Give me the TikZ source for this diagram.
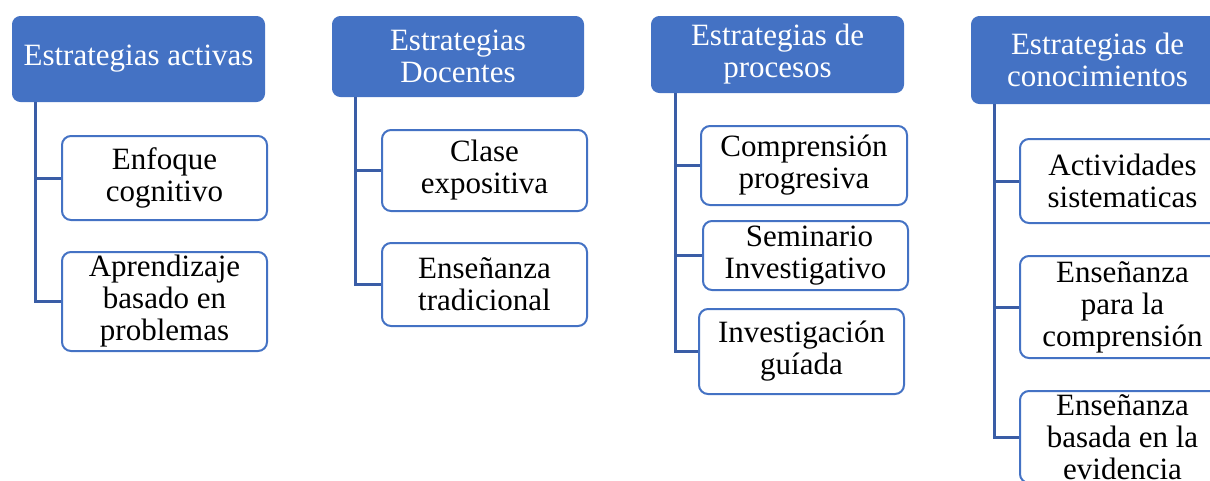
\documentclass[tikz,border=0pt]{standalone}
\usepackage{fontspec}
\setmainfont{Liberation Serif}
\definecolor{boxblue}{HTML}{4472C4}
\definecolor{linkblue}{HTML}{3A5DA6}
\begin{document}
\begin{tikzpicture}[x=1pt,y=-1pt,
  hdr/.style={anchor=north west, fill=boxblue, draw=boxblue, line width=1pt, rounded corners=8pt,
    text=white, align=center, inner sep=0pt, font=\fontsize{31}{32}\selectfont},
  child/.style={anchor=north west, fill=white, draw=boxblue, line width=2pt, rounded corners=9pt,
    text=black, align=center, inner sep=0pt, font=\fontsize{31}{32}\selectfont},
  conn/.style={draw=linkblue, line width=3pt}]
\useasboundingbox (0,0) rectangle (1210,480);
\clip (0,0) rectangle (1210,480);
% Column 1
\node[hdr, minimum width=252pt, minimum height=85pt] (h1) at (12,16) {Estrategias activas};
\node[child, minimum width=205pt, minimum height=84pt] (c11) at (61,135) {Enfoque\\cognitivo};
\node[child, minimum width=205pt, minimum height=99pt] (c12) at (61,251) {Aprendizaje\\basado en\\problemas};
% Column 2
\node[hdr, minimum width=251pt, minimum height=80pt] (h2) at (332,16) {Estrategias\\Docentes};
\node[child, minimum width=205pt, minimum height=81pt] (c21) at (381,129) {Clase\\expositiva};
\node[child, minimum width=205pt, minimum height=83pt] (c22) at (381,242) {Enseñanza\\tradicional};
% Column 3
\node[hdr, minimum width=252pt, minimum height=76pt] (h3) at (651,16) {Estrategias de\\procesos};
\node[child, minimum width=206pt, minimum height=79pt] (c31) at (700,125) {Comprensión\\progresiva};
\node[child, minimum width=205pt, minimum height=69pt] (c32) at (702,220) {\hspace{8pt}Seminario\\Investigativo};
\node[child, minimum width=205pt, minimum height=85pt] (c33) at (698,308) {Investigación\\guíada};
% Column 4
\node[hdr, minimum width=252pt, minimum height=87pt] (h4) at (971,16) {Estrategias de\\conocimientos};
\node[child, minimum width=205pt, minimum height=84pt] (c41) at (1019,138) {Actividades\\sistematicas};
\node[child, minimum width=205pt, minimum height=102pt] (c42) at (1019,255) {Enseñanza\\para la\\comprensión};
\node[child, minimum width=205pt, minimum height=92pt] (c43) at (1019,390) {Enseñanza\\basada en la\\evidencia};
% Connectors
\draw[conn] ([xshift=23pt]h1.south west) |- (c11.west);
\draw[conn] ([xshift=23pt]h1.south west) |- (c12.west);
\draw[conn] ([xshift=23pt]h2.south west) |- (c21.west);
\draw[conn] ([xshift=23pt]h2.south west) |- (c22.west);
\draw[conn] ([xshift=24pt]h3.south west) |- (c31.west);
\draw[conn] ([xshift=24pt]h3.south west) |- (c32.west);
\draw[conn] ([xshift=24pt]h3.south west) |- (c33.west);
\draw[conn] ([xshift=23pt]h4.south west) |- (c41.west);
\draw[conn] ([xshift=23pt]h4.south west) |- (c42.west);
\draw[conn] ([xshift=23pt]h4.south west) |- (c43.west);
\end{tikzpicture}
\end{document}
